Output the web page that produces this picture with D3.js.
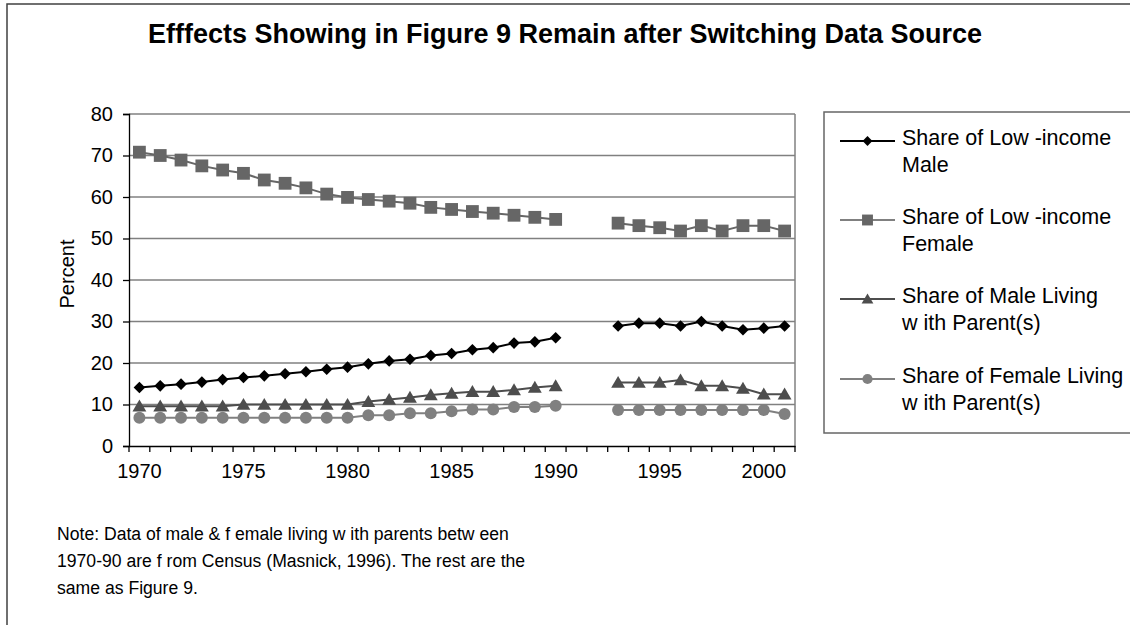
<!DOCTYPE html>
<html>
<head>
<meta charset="utf-8">
<script src="https://cdn.jsdelivr.net/npm/d3@7"></script>
<style>
  html, body { margin: 0; padding: 0; background: #fff; }
  svg { display: block; font-family: "Liberation Sans", Arial, sans-serif; }
</style>
</head>
<body>
<svg id="chart" width="1130" height="625"></svg>
<script>
// ---------- data ----------
const years = d3.range(1970, 2002).map(String);
const yTicks = [0, 10, 20, 30, 40, 50, 60, 70, 80];
const xTickLabels = ["1970", "1975", "1980", "1985", "1990", "1995", "2000"];

const lowIncomeMale = [14.1, 14.5, 14.9, 15.4, 16.0, 16.5, 16.9, 17.4, 17.9, 18.5, 19.0,
  19.8, 20.5, 20.9, 21.8, 22.3, 23.2, 23.7, 24.8, 25.1, 26.1,
  null, null,
  28.9, 29.6, 29.6, 28.9, 30.0, 28.9, 28.0, 28.4, 28.9];
const lowIncomeFemale = [70.8, 70.0, 68.9, 67.5, 66.5, 65.7, 64.1, 63.3, 62.2, 60.7, 59.9,
  59.4, 59.0, 58.5, 57.5, 57.0, 56.5, 56.1, 55.6, 55.1, 54.6,
  null, null,
  53.7, 53.1, 52.6, 51.8, 53.1, 51.8, 53.1, 53.1, 51.8];
const maleWithParents = [9.6, 9.6, 9.6, 9.6, 9.6, 10.0, 10.0, 10.0, 10.0, 10.0, 10.0,
  10.7, 11.2, 11.7, 12.3, 12.7, 13.1, 13.1, 13.5, 14.1, 14.5,
  null, null,
  15.3, 15.3, 15.3, 15.9, 14.5, 14.5, 13.9, 12.5, 12.5];
const femaleWithParents = [6.8, 6.8, 6.8, 6.8, 6.8, 6.8, 6.8, 6.8, 6.8, 6.8, 6.8,
  7.4, 7.4, 7.9, 7.9, 8.4, 8.8, 8.8, 9.4, 9.4, 9.7,
  null, null,
  8.7, 8.7, 8.7, 8.7, 8.7, 8.7, 8.7, 8.7, 7.7];

const seriesNames = [
  ["Share of Low -income", "Male"],
  ["Share of Low -income", "Female"],
  ["Share of Male Living", "w ith Parent(s)"],
  ["Share of Female Living", "w ith Parent(s)"]
];
const titleText = "Efffects Showing in Figure 9 Remain after Switching Data Source";
const yLabel = "Percent";
const noteLines = [
  "Note: Data of male & f emale living w ith parents betw een",
  "1970-90 are f rom Census (Masnick, 1996). The rest are the",
  "same as Figure 9."
];

// ---------- styles ----------
const series = [
  { values: lowIncomeMale, color: "#000000", legendLine: "#000000", marker: "diamond" },
  { values: lowIncomeFemale, color: "#666666", legendLine: "#808080", marker: "square" },
  { values: maleWithParents, color: "#4d4d4d", legendLine: "#4d4d4d", marker: "triangle" },
  { values: femaleWithParents, color: "#808080", legendLine: "#808080", marker: "circle" }
];

const svg = d3.select("#chart");

// outer frame
svg.append("rect").attr("x", 7).attr("y", 4).attr("width", 1140).attr("height", 640)
  .attr("fill", "#fff").attr("stroke", "#404040").attr("stroke-width", 1.5);

const plot = { left: 129, right: 795, top: 114, bottom: 446 };

const x = d3.scaleBand().domain(years).range([plot.left, plot.right]).padding(0);
const y = d3.scaleLinear().domain([0, 80]).range([plot.bottom, plot.top]);
const cx = d => x(d) + x.bandwidth() / 2;

// gridlines
svg.append("g").selectAll("line").data(yTicks.filter(t => t > 0)).join("line")
  .attr("x1", plot.left).attr("x2", plot.right)
  .attr("y1", d => y(d)).attr("y2", d => y(d))
  .attr("stroke", "#808080").attr("stroke-width", 1.3);

// right plot border
svg.append("line").attr("x1", plot.right).attr("x2", plot.right)
  .attr("y1", plot.top).attr("y2", plot.bottom)
  .attr("stroke", "#808080").attr("stroke-width", 1.5);

// y axis
const yAxis = svg.append("g").attr("transform", `translate(${plot.left},0)`)
  .call(d3.axisLeft(y).tickValues(yTicks).tickSize(6).tickPadding(10));
yAxis.select(".domain").attr("stroke", "#000").attr("stroke-width", 1.3);
yAxis.selectAll(".tick line").attr("stroke", "#000").attr("stroke-width", 1.3);
yAxis.selectAll(".tick text").attr("font-size", 20).attr("fill", "#000")
  .attr("font-family", "Liberation Sans, Arial, sans-serif");

// x axis
const xAxis = svg.append("g").attr("transform", `translate(0,${plot.bottom})`)
  .call(d3.axisBottom(x).tickValues(xTickLabels).tickSize(0).tickPadding(18));
xAxis.select(".domain").attr("stroke", "#000").attr("stroke-width", 1.3);
xAxis.selectAll(".tick text").attr("font-size", 20).attr("fill", "#000")
  .attr("font-family", "Liberation Sans, Arial, sans-serif");
// category boundary ticks
const boundaries = years.map(d => x(d)).concat([x(years[years.length - 1]) + x.bandwidth()]);
svg.append("g").selectAll("line").data(boundaries).join("line")
  .attr("x1", d => d).attr("x2", d => d)
  .attr("y1", plot.bottom).attr("y2", plot.bottom + 6)
  .attr("stroke", "#000").attr("stroke-width", 1.3);

// markers
function drawMarker(g, type, color, s) {
  if (type === "diamond") {
    g.append("path").attr("d", `M0,${-s}L${s},0L0,${s}L${-s},0Z`).attr("fill", color);
  } else if (type === "square") {
    g.append("rect").attr("x", -s).attr("y", -s).attr("width", 2 * s).attr("height", 2 * s).attr("fill", color);
  } else if (type === "triangle") {
    g.append("path").attr("d", `M0,${-s * 1.05}L${s * 1.1},${s * 0.85}L${-s * 1.1},${s * 0.85}Z`).attr("fill", color);
  } else {
    g.append("circle").attr("r", s).attr("fill", color);
  }
}
const markerSize = { diamond: 5.8, square: 6.4, triangle: 6.3, circle: 6 };

const line = d3.line().defined(d => d.v != null).x(d => cx(d.year)).y(d => y(d.v));

series.forEach(s => {
  const pts = years.map((yr, i) => ({ year: yr, v: s.values[i] }));
  svg.append("path").datum(pts).attr("d", line)
    .attr("fill", "none").attr("stroke", s.color).attr("stroke-width", 2);
  svg.append("g").selectAll("g").data(pts.filter(p => p.v != null)).join("g")
    .attr("transform", p => `translate(${cx(p.year)},${y(p.v)})`)
    .each(function () { drawMarker(d3.select(this), s.marker, s.color, markerSize[s.marker]); });
});

// title (sized to span the same width as the original)
const title = svg.append("text").attr("x", 565).attr("y", 43).attr("text-anchor", "middle")
  .attr("font-weight", "bold").attr("font-size", 23).attr("fill", "#000").text(titleText);
const tw = title.node().getComputedTextLength();
if (tw > 0) title.attr("font-size", Math.min(27, 23 * 835 / tw));

// y label
svg.append("text").attr("transform", "translate(74,274) rotate(-90)")
  .attr("text-anchor", "middle").attr("font-size", 20).attr("fill", "#000").text(yLabel);

// legend
const legend = svg.append("g");
legend.append("rect").attr("x", 824).attr("y", 112).attr("width", 330).attr("height", 321)
  .attr("fill", "#fff").attr("stroke", "#666").attr("stroke-width", 1.5);
const legendY = [141, 220, 299, 379];
series.forEach((s, i) => {
  const gy = legendY[i];
  legend.append("line").attr("x1", 840).attr("x2", 895).attr("y1", gy).attr("y2", gy)
    .attr("stroke", s.legendLine).attr("stroke-width", 2);
  const mg = legend.append("g").attr("transform", `translate(867.5,${gy})`);
  drawMarker(mg, s.marker, s.color, markerSize[s.marker] * 0.85);
  const t = legend.append("text").attr("x", 902).attr("y", gy + 4).attr("font-size", 21.5).attr("fill", "#000");
  t.append("tspan").attr("x", 902).text(seriesNames[i][0]);
  t.append("tspan").attr("x", 902).attr("dy", 27).text(seriesNames[i][1]);
});

// note
const note = svg.append("text").attr("font-size", 17.6).attr("fill", "#000");
noteLines.forEach((l, i) => {
  note.append("tspan").attr("x", 57).attr("y", 540 + i * 27).text(l);
});
</script>
</body>
</html>
